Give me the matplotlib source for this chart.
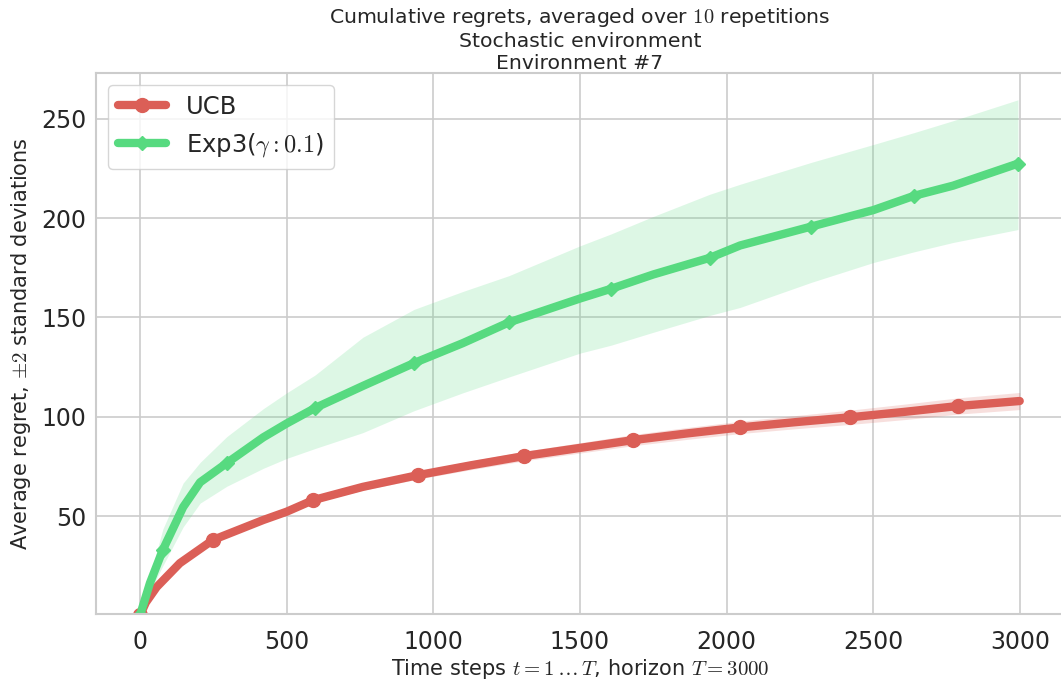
import numpy as np
import matplotlib
matplotlib.use("Agg")
import matplotlib.pyplot as plt
import seaborn as sns

# ---- data ----
t_ucb = [0, 20, 57, 136, 249, 420, 500, 590, 760, 948, 1130, 1310, 1500, 1680,
         1860, 2045, 2230, 2420, 2610, 2790, 2999]
ucb_mean = [0, 6.5, 14.3, 26.3, 38, 48, 52.2, 58, 64.7, 70.6, 75.6, 80.2, 84.3, 88.2,
            91.5, 94.6, 97.2, 99.7, 102.5, 105.4, 107.9]
ucb_2std = [0, 0.2, 0.4, 0.6, 0.8, 1.0, 1.2, 1.4, 1.7, 2.0, 2.2, 2.4, 2.6, 2.8,
            3.0, 3.1, 3.3, 3.6, 3.9, 4.1, 4.3]
ucb_marks = [0, 4, 7, 9, 11, 13, 15, 17, 19]

t_exp3 = [0, 34, 78, 147, 205, 296, 420, 500, 597, 760, 934, 1100, 1258, 1500,
          1606, 1750, 1943, 2046, 2288, 2500, 2639, 2772, 2993]
exp3_mean = [0, 16.3, 33, 54.5, 67, 76.7, 89.6, 96.6, 104.4, 115.5, 127, 137, 147.5, 159.5,
             164.4, 171.6, 180.0, 186.2, 195.7, 204, 211.2, 216.3, 227.4]
exp3_lower = [0, 12, 25, 44.5, 56.5, 65, 74, 79, 84, 92, 103, 112, 120, 132,
              136, 142.5, 151, 155, 167.6, 177.6, 183, 187.7, 194.2]
exp3_upper = [0, 20, 43.5, 66.6, 77, 90, 104, 112, 121, 140, 154, 163, 171, 186,
              192, 200.8, 212, 217, 228, 237, 243, 249, 259.5]
exp3_marks = [0, 2, 5, 8, 10, 12, 14, 16, 18, 20, 22]

labels = ["UCB", r"Exp3($\gamma: 0.1$)"]
colors = ["#db5f57", "#57da80"]

title = ("Cumulative regrets, averaged over $10$ repetitions\n"
         "Stochastic environment\nEnvironment #7")
xlabel = r"Time steps $t = 1 \dots T$, horizon $T = 3000$"
ylabel = r"Average regret, $\pm 2$ standard deviations"
xticks = [0, 500, 1000, 1500, 2000, 2500, 3000]
yticks = [50, 100, 150, 200, 250]

# ---- style ----
sns.set_style("whitegrid")
plt.rcParams["font.family"] = ["DejaVu Sans"]
plt.rcParams["mathtext.fontset"] = "cm"

fig = plt.figure(figsize=(10.61, 6.82), dpi=100)
ax = fig.add_axes([96 / 1061, 1 - 614 / 682, 968 / 1061, (614 - 73) / 682])

tu = np.array(t_ucb)
mu = np.array(ucb_mean)
su = np.array(ucb_2std)
ax.plot(tu, mu, color=colors[0], lw=6, marker="o", ms=10,
        markevery=ucb_marks, label=labels[0], solid_capstyle="round")
ax.fill_between(tu, mu - su, mu + su, color=colors[0], alpha=0.2, lw=0)

te = np.array(t_exp3)
ax.plot(te, exp3_mean, color=colors[1], lw=6, marker="D", ms=7,
        markevery=exp3_marks, label=labels[1], solid_capstyle="round")
ax.fill_between(te, exp3_lower, exp3_upper, color=colors[1], alpha=0.2, lw=0)

ax.set_xlim(-150, 3150)
ax.set_ylim(0.7, 273)
ax.set_xticks(xticks)
ax.set_yticks(yticks)
ax.tick_params(labelsize=17, colors="#262626")
ax.tick_params(axis="x", pad=8)
ax.set_xlabel(xlabel, fontsize=15, color="#262626", labelpad=2)
ax.set_ylabel(ylabel, fontsize=15, color="#262626", labelpad=6)
ax.set_title(title, fontsize=14.7, color="#262626", pad=3)
ax.grid(True, color="#cccccc", lw=1.2)
for s in ax.spines.values():
    s.set_color("#cccccc")
    s.set_linewidth(1.5)

leg = ax.legend(loc="upper left", fontsize=17.5, frameon=True, framealpha=0.8,
                edgecolor="#cccccc", borderaxespad=0.5)

fig.savefig("out.png", dpi=100)
